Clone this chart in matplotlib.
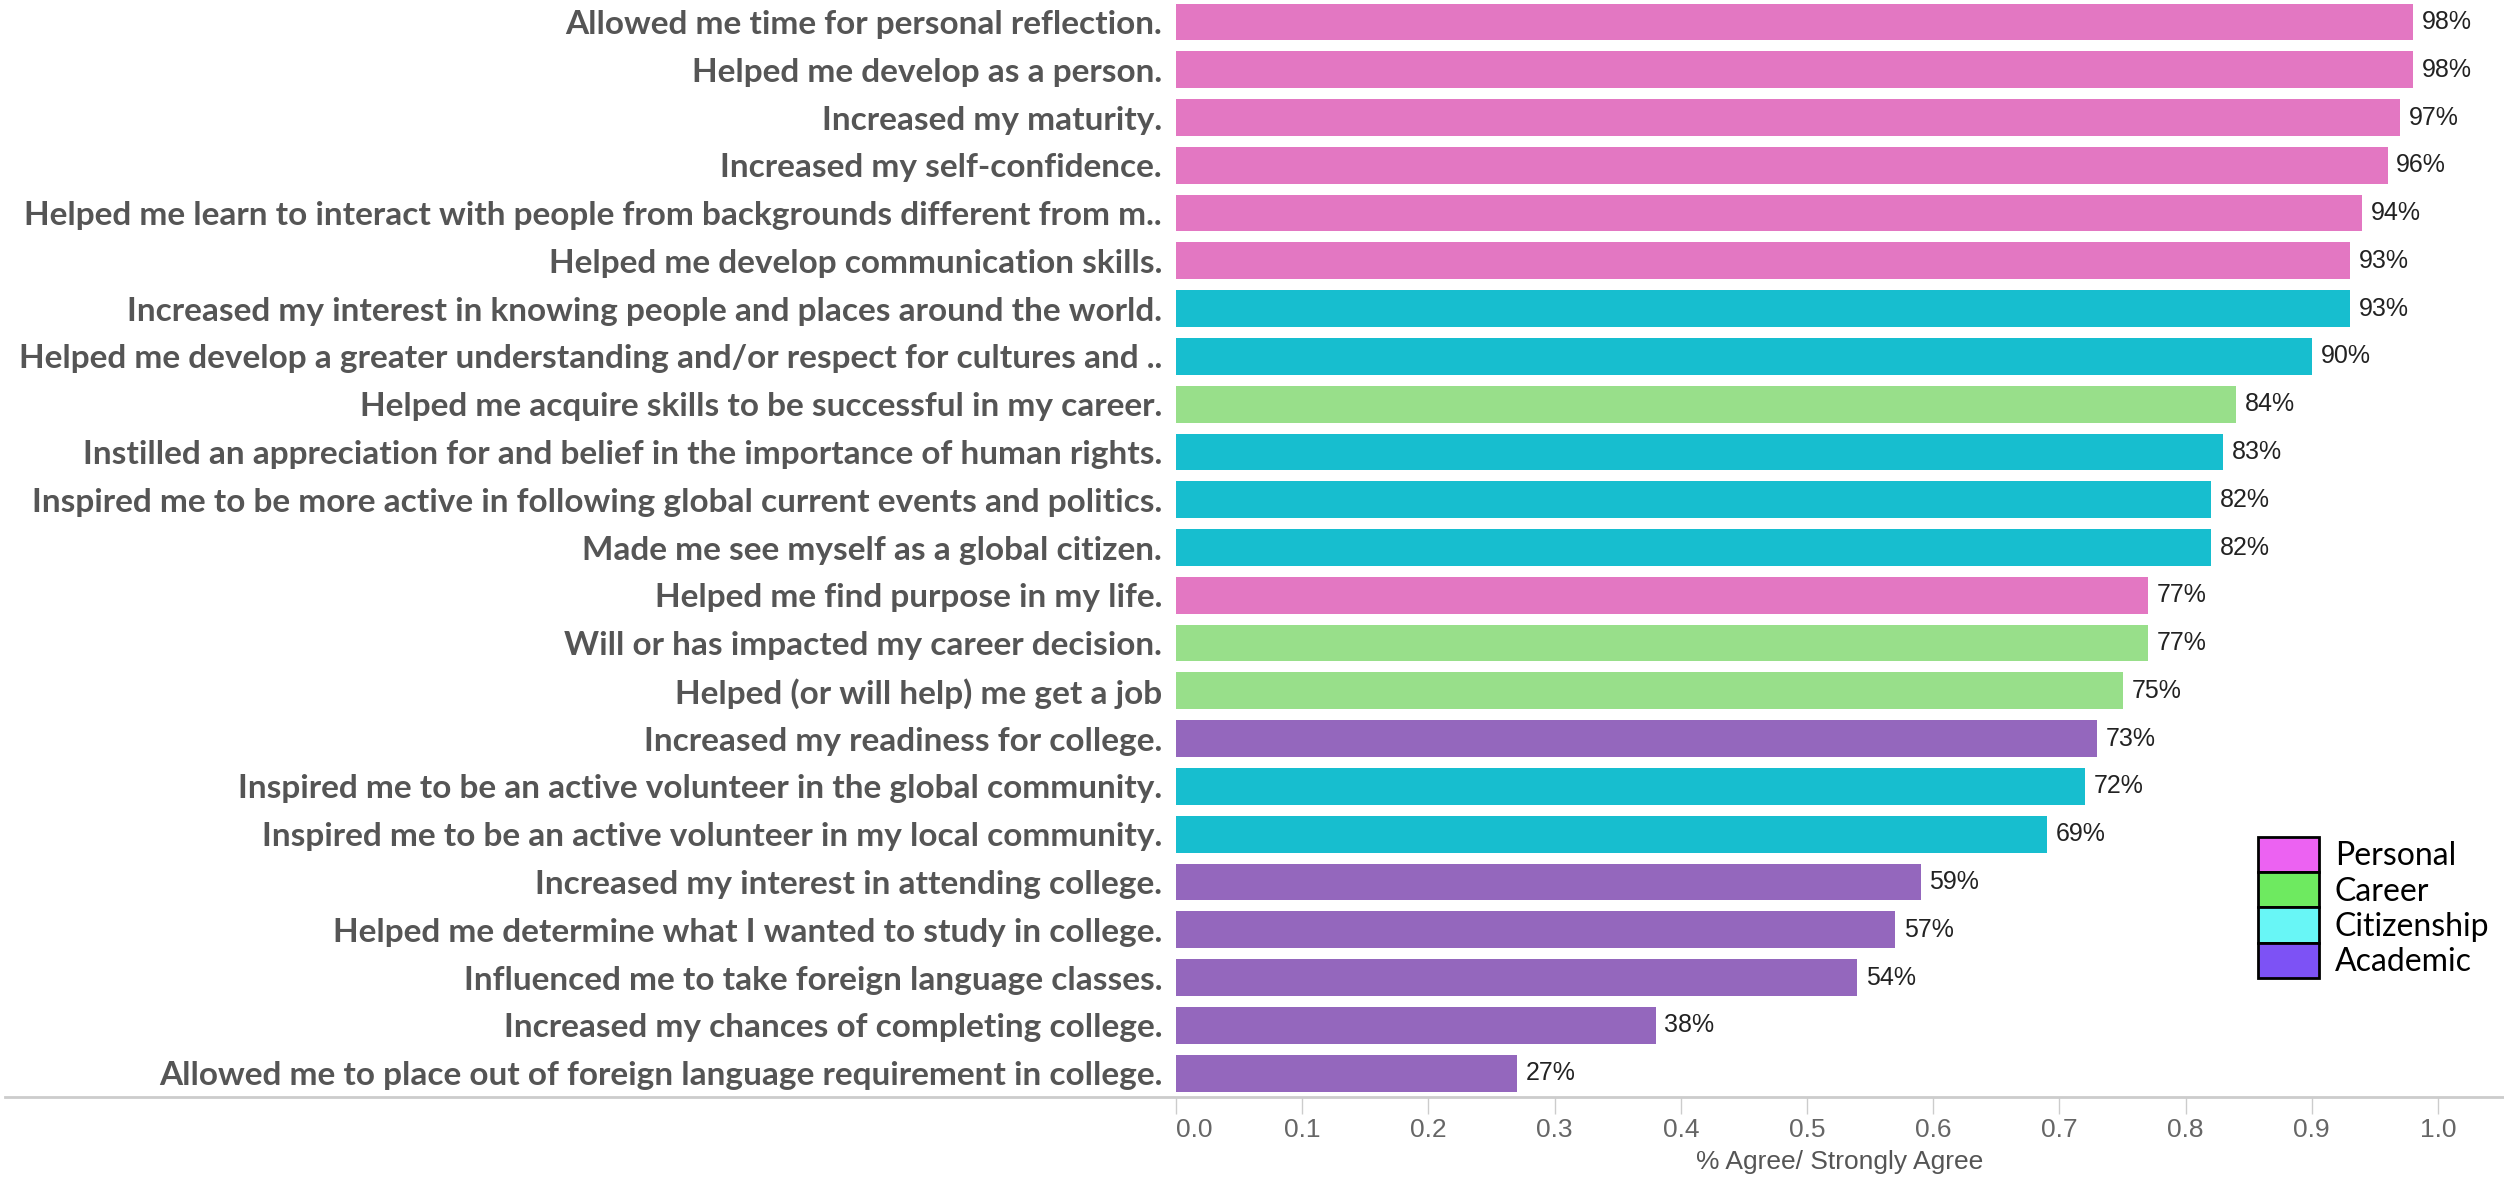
import matplotlib
matplotlib.use("Agg")
import matplotlib.pyplot as plt
from matplotlib.patches import Patch
from matplotlib.lines import Line2D

statements = [
    "Allowed me time for personal reflection.",
    "Helped me develop as a person.",
    "Increased my maturity.",
    "Increased my self-confidence.",
    "Helped me learn to interact with people from backgrounds different from m..",
    "Helped me develop communication skills.",
    "Increased my interest in knowing people and places around the world.",
    "Helped me develop a greater understanding and/or respect for cultures and ..",
    "Helped me acquire skills to be successful in my career.",
    "Instilled an appreciation for and belief in the importance of human rights.",
    "Inspired me to be more active in following global current events and politics.",
    "Made me see myself as a global citizen.",
    "Helped me find purpose in my life.",
    "Will or has impacted my career decision.",
    "Helped (or will help) me get a job",
    "Increased my readiness for college.",
    "Inspired me to be an active volunteer in the global community.",
    "Inspired me to be an active volunteer in my local community.",
    "Increased my interest in attending college.",
    "Helped me determine what I wanted to study in college.",
    "Influenced me to take foreign language classes.",
    "Increased my chances of completing college.",
    "Allowed me to place out of foreign language requirement in college.",
]
agree = [0.98, 0.98, 0.97, 0.96, 0.94, 0.93, 0.93, 0.90, 0.84, 0.83, 0.82, 0.82,
         0.77, 0.77, 0.75, 0.73, 0.72, 0.69, 0.59, 0.57, 0.54, 0.38, 0.27]
category = ["Personal", "Personal", "Personal", "Personal", "Personal", "Personal",
            "Citizenship", "Citizenship", "Career", "Citizenship", "Citizenship",
            "Citizenship", "Personal", "Career", "Career", "Academic", "Citizenship",
            "Citizenship", "Academic", "Academic", "Academic", "Academic", "Academic"]

legend_order = ["Personal", "Career", "Citizenship", "Academic"]
bar_colors = {"Personal": "#e377c2", "Career": "#98df8a",
              "Citizenship": "#17becf", "Academic": "#9467bd"}
legend_colors = {"Personal": "#ec62f2", "Career": "#6eea60",
                 "Citizenship": "#68f6f6", "Academic": "#7d52f5"}

arial = ["Liberation Sans", "DejaVu Sans"]

W, H = 2504, 1179
fig = plt.figure(figsize=(W / 100, H / 100), dpi=100)
ax_left = 1176 / W
ax_bottom = (H - 1097) / H
ax = fig.add_axes([ax_left, ax_bottom, 1 - ax_left, 1 - ax_bottom])

y = list(range(len(statements)))
ax.barh(y, agree, height=0.77, color=[bar_colors[c] for c in category])

for yi, v in zip(y, agree):
    ax.text(v + 0.007, yi, f"{v:.0%}", va="center", ha="left",
            fontsize=18, color="#222222", family=arial)

ax.set_xlim(0, (W - 1176) / 1262)
ax.set_ylim(22.5, -0.46)
ax.set_xticks([i / 10 for i in range(11)])
ax.set_xticklabels([f"{i / 10:.1f}" for i in range(11)], family=arial,
                   fontsize=19, color="#666666")
ax.get_xticklabels()[0].set_ha("left")  # first label kept inside the axis
ax.tick_params(axis="x", length=12, width=1, color="#cccccc", pad=3)
ax.set_yticks(y)
ax.set_yticklabels(statements, family=["Lato", "DejaVu Sans"], fontweight="bold",
                   fontsize=24, color="#555555")
ax.tick_params(axis="y", length=0, pad=10)
ax.set_xlabel("% Agree/ Strongly Agree", family=arial,
              fontsize=19, color="#555555", labelpad=6)

for s in ax.spines.values():
    s.set_visible(False)

# baseline running under the labels as well
fig.add_artist(Line2D([5 / W, 1], [ax_bottom, ax_bottom], transform=fig.transFigure,
                      color="#cccccc", lw=2))

handles = [Patch(facecolor=legend_colors[c], edgecolor="black", linewidth=2)
           for c in legend_order]
ax.legend(handles, legend_order, loc="upper left",
          bbox_to_anchor=(2258 / W, 1 - 837 / H), bbox_transform=fig.transFigure,
          frameon=False, labelspacing=0, borderpad=0, borderaxespad=0,
          handlelength=1.9, handleheight=1.32, handletextpad=0.5,
          prop={"family": ["Lato", "DejaVu Sans"], "size": 23})

fig.savefig("out.png", dpi=100, facecolor="white")
